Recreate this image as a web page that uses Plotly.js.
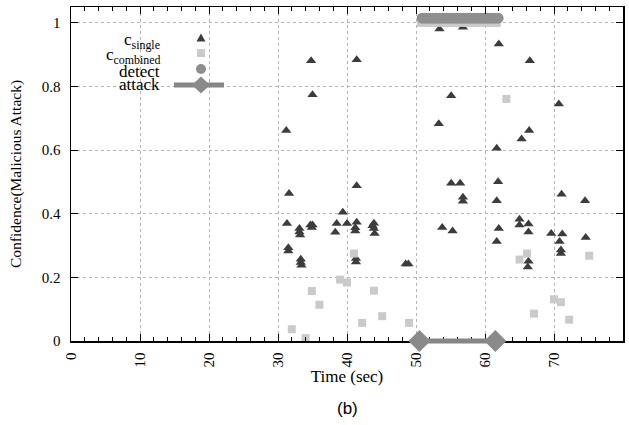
<!DOCTYPE html>
<html>
<head>
<meta charset="utf-8">
<script src="https://cdn.plot.ly/plotly-3.0.1.min.js"></script>
<style>html,body{margin:0;padding:0;background:#fff;}#chart{width:629px;height:425px;}</style>
</head>
<body>
<div id="chart"></div>
<script>
// c_single (dark triangles)
const timeSingle = [31.2, 31.6, 34.8, 35.0, 41.4, 41.4, 39.4, 31.3, 33.1, 33.1, 33.2, 34.7, 35.0, 34.9,
  38.5, 38.3, 40.0, 41.4, 41.2, 41.2, 31.5, 31.5, 33.3, 33.3, 33.4, 41.3, 41.3, 43.9, 43.9, 44.0, 43.7,
  48.5, 48.9, 53.4, 56.8, 62.0, 55.1, 53.3, 61.7, 55.1, 56.4, 56.8, 56.8, 61.9, 61.7, 53.8, 55.3, 62.0,
  61.7, 65.0, 65.0, 66.3, 66.3, 66.3, 66.2, 70.7, 66.4, 65.3, 66.5, 71.1, 74.5, 69.6, 71.2, 70.8, 71.0,
  71.0, 74.6];
const cSingle = [0.662, 0.464, 0.881, 0.774, 0.884, 0.488, 0.405, 0.369, 0.354, 0.343, 0.333, 0.365, 0.365, 0.357,
  0.369, 0.342, 0.369, 0.373, 0.356, 0.346, 0.293, 0.283, 0.257, 0.247, 0.238, 0.259, 0.248, 0.370, 0.354, 0.338, 0.362,
  0.242, 0.242, 0.981, 0.986, 0.934, 0.771, 0.683, 0.606, 0.496, 0.496, 0.452, 0.439, 0.501, 0.441, 0.357, 0.346, 0.354,
  0.313, 0.383, 0.365, 0.368, 0.343, 0.251, 0.233, 0.745, 0.662, 0.635, 0.881, 0.461, 0.441, 0.338, 0.336, 0.313, 0.286,
  0.275, 0.325];

// c_combined (light squares)
const timeCombined = [41.0, 39.0, 40.0, 34.9, 36.0, 32.0, 34.0, 42.2, 43.9, 45.1, 49.0, 63.1, 66.1, 65.0,
  75.1, 70.0, 71.0, 67.1, 72.2,
  50.7, 51.6, 52.6, 53.6, 54.6, 55.6, 56.6, 57.6, 58.6, 59.6, 60.6, 61.7];
const cCombined = [0.275, 0.193, 0.184, 0.157, 0.114, 0.037, 0.009, 0.057, 0.158, 0.078, 0.057, 0.761, 0.275, 0.256,
  0.268, 0.131, 0.122, 0.086, 0.067,
  1.0, 1.0, 1.0, 1.0, 1.0, 1.0, 1.0, 1.0, 1.0, 1.0, 1.0, 1.0];

// detect (grey circles)
const timeDetect = [50.9, 51.4, 51.9, 52.4, 52.9, 53.4, 53.9, 54.4, 54.9, 55.4, 55.9, 56.4, 56.9, 57.4, 57.9,
  58.4, 58.9, 59.4, 59.9, 60.4, 60.9, 61.4, 61.9];
const detect = [1.015, 1.015, 1.015, 1.015, 1.015, 1.015, 1.015, 1.015, 1.015, 1.015, 1.015, 1.015, 1.015, 1.015, 1.015,
  1.015, 1.015, 1.015, 1.015, 1.015, 1.015, 1.015, 1.015];

// attack (thick line with diamonds)
const timeAttack = [50.5, 61.5];
const attack = [0, 0];

const xTicks = [0, 10, 20, 30, 40, 50, 60, 70, 80];
const yTicks = [0, 0.2, 0.4, 0.6, 0.8, 1];
const yTickText = ['0', '0.2', '0.4', '0.6', '0.8', '1'];

const serif = 'Liberation Serif, Times New Roman, serif';

const traces = [
  {x: timeSingle, y: cSingle, type: 'scatter', mode: 'markers', name: 'c<sub>single</sub>', showlegend: false,
   marker: {symbol: 'triangle-up', size: 9, color: '#3c3c3c'}},
  {x: timeCombined, y: cCombined, type: 'scatter', mode: 'markers', name: 'c<sub>combined</sub>', showlegend: false,
   marker: {symbol: 'square', size: 8, color: '#cacaca'}},
  {x: timeDetect, y: detect, type: 'scatter', mode: 'markers', name: 'detect', showlegend: false,
   marker: {symbol: 'circle', size: 11, color: '#8e8e8e'}},
  // drawn on an invisible twin subplot that extends slightly below the x axis so the thick line is not clipped
  {x: timeAttack, y: attack, xaxis: 'x2', yaxis: 'y2', type: 'scatter', mode: 'lines+markers', name: 'attack',
   showlegend: false, cliponaxis: false,
   line: {color: '#868686', width: 5}, marker: {symbol: 'diamond', size: 17, color: '#8a8a8a'}}
];

// legend geometry (paper coords)
const lgTextX = 0.165, lgSymX = 0.2355;

const layout = {
  width: 629, height: 425,
  margin: {l: 71, r: 6, t: 7, b: 74},
  paper_bgcolor: '#fff', plot_bgcolor: 'rgba(0,0,0,0)',
  showlegend: false,
  xaxis: {
    range: [0, 80], tickvals: xTicks, ticktext: xTicks.map(String), tickangle: -90,
    ticks: 'inside', ticklen: 7, tickwidth: 1, tickcolor: '#000',
    showline: true, linecolor: '#000', linewidth: 1.5, mirror: 'allticks',
    showgrid: true, gridcolor: '#b4b4b4', griddash: 'dot', gridwidth: 1,
    zeroline: false,
    minor: {dtick: 2, tick0: 0, ticks: 'inside', ticklen: 4, tickcolor: '#000', showgrid: false},
    tickfont: {family: serif, size: 15, color: '#000'},
    ticklabelstandoff: 4,
    title: {text: 'Time (sec)', font: {family: serif, size: 17, color: '#000'}, standoff: 0}
  },
  yaxis: {
    domain: [10 / 344, 1],
    range: [0, 1.05], tickvals: yTicks, ticktext: yTickText,
    ticks: 'inside', ticklen: 7, tickwidth: 1, tickcolor: '#000',
    showline: true, linecolor: '#000', linewidth: 1.5, mirror: 'allticks',
    showgrid: true, gridcolor: '#b4b4b4', griddash: 'dot', gridwidth: 1,
    zeroline: false,
    tickfont: {family: serif, size: 15, color: '#000'},
    ticklabelstandoff: 6,
    title: {text: 'Confidence(Malicious Attack)', font: {family: serif, size: 15.5, color: '#000'}, standoff: 16}
  },
  xaxis2: {domain: [0, 1], range: [0, 80], anchor: 'y2', visible: false, showgrid: false, zeroline: false},
  yaxis2: {domain: [0, 1], range: [-0.0314, 1.05], anchor: 'x2', visible: false, showgrid: false, zeroline: false},
  annotations: [
    {xref: 'paper', yref: 'paper', x: lgTextX, y: 0.900, xanchor: 'right', yanchor: 'middle', showarrow: false,
     text: 'c<sub>single</sub>', font: {family: serif, size: 17, color: '#000'}},
    {xref: 'paper', yref: 'paper', x: lgTextX, y: 0.857, xanchor: 'right', yanchor: 'middle', showarrow: false,
     text: 'c<sub>combined</sub>', font: {family: serif, size: 17, color: '#000'}},
    {xref: 'paper', yref: 'paper', x: lgTextX, y: 0.813, xanchor: 'right', yanchor: 'middle', showarrow: false,
     text: 'detect', font: {family: serif, size: 17, color: '#000'}},
    {xref: 'paper', yref: 'paper', x: lgTextX, y: 0.775, xanchor: 'right', yanchor: 'middle', showarrow: false,
     text: 'attack', font: {family: serif, size: 17, color: '#000'}},
    {xref: 'paper', yref: 'paper', x: 0.5, y: -0.166, xanchor: 'center', yanchor: 'middle', showarrow: false,
     text: '(b)', font: {family: 'Liberation Sans, Arial, sans-serif', size: 17, color: '#000'}}
  ],
  shapes: [
    {type: 'path', xref: 'paper', yref: 'paper', xsizemode: 'pixel', ysizemode: 'pixel',
     xanchor: lgSymX, yanchor: 0.910, path: 'M -4.5 -3.5 L 4.5 -3.5 L 0 4.5 Z',
     fillcolor: '#3c3c3c', line: {width: 0}},
    {type: 'rect', xref: 'paper', yref: 'paper', xsizemode: 'pixel', ysizemode: 'pixel',
     xanchor: lgSymX, yanchor: 0.866, x0: -4, x1: 4, y0: -4, y1: 4,
     fillcolor: '#cacaca', line: {width: 0}},
    {type: 'circle', xref: 'paper', yref: 'paper', xsizemode: 'pixel', ysizemode: 'pixel',
     xanchor: lgSymX, yanchor: 0.820, x0: -5, x1: 5, y0: -5, y1: 5,
     fillcolor: '#8e8e8e', line: {width: 0}},
    {type: 'line', xref: 'paper', yref: 'paper', x0: 0.1866, x1: 0.2772, y0: 0.773, y1: 0.773,
     line: {color: '#868686', width: 5}},
    {type: 'path', xref: 'paper', yref: 'paper', xsizemode: 'pixel', ysizemode: 'pixel',
     xanchor: lgSymX, yanchor: 0.773, path: 'M -9 0 L 0 8.5 L 9 0 L 0 -8.5 Z',
     fillcolor: '#8a8a8a', line: {width: 0}}
  ]
};

Plotly.newPlot('chart', traces, layout, {displayModeBar: false, staticPlot: true});
</script>
</body>
</html>
